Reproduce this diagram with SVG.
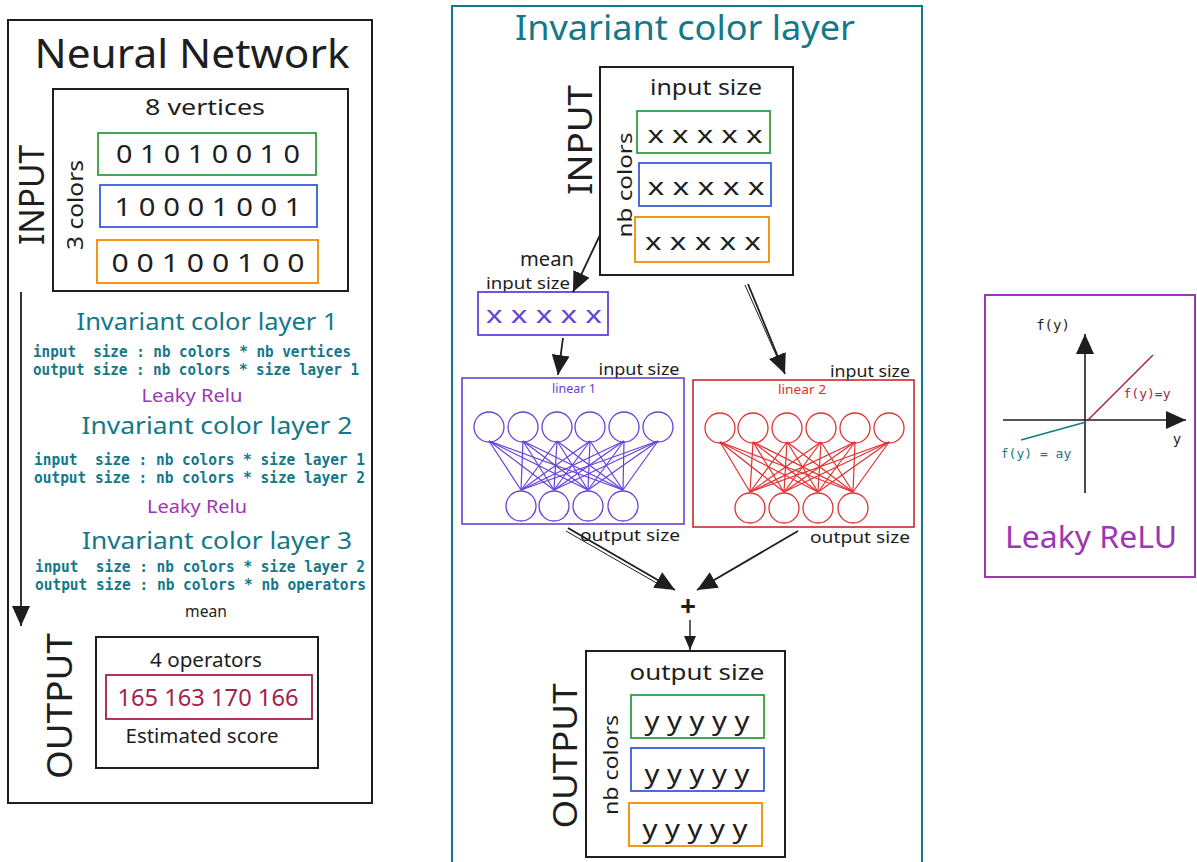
<svg xmlns="http://www.w3.org/2000/svg" width="1197" height="862" viewBox="0 0 1197 862">
<defs>
<style>
.hand{font-family:"Noto Sans","Open Sans",sans-serif;}
.mono{font-family:"DejaVu Sans Mono","Liberation Mono",monospace;font-size:15px;font-weight:bold;fill:#13788a;}
.box{fill:none;stroke:#1e1e1e;stroke-width:2;}
.g{fill:none;stroke:#2f9e44;stroke-width:1.8;}
.b{fill:none;stroke:#3b5bdb;stroke-width:1.8;}
.o{fill:none;stroke:#f08c00;stroke-width:1.8;}
.teal{fill:#13788a;}
.purp{fill:#9c36b5;}
.ink{fill:#1e1e1e;}
.conn{stroke:#1e1e1e;stroke-width:1.8;fill:none;marker-end:url(#ah);}
.nn1 circle{fill:none;stroke:#6741d9;stroke-width:1.3;}
.nn1 line{stroke:#6741d9;stroke-width:1.2;}
.nn2 circle{fill:none;stroke:#e03131;stroke-width:1.3;}
.nn2 line{stroke:#e03131;stroke-width:1.2;}
</style>
<marker id="ah" viewBox="0 0 20 18" refX="20" refY="9" markerWidth="20" markerHeight="18" markerUnits="userSpaceOnUse" orient="auto">
<path d="M0,0 L20,9 L0,18 Z" fill="#1e1e1e"/>
</marker>
<marker id="ahs" viewBox="0 0 14 12" refX="14" refY="6" markerWidth="14" markerHeight="12" markerUnits="userSpaceOnUse" orient="auto">
<path d="M0,0 L14,6 L0,12 Z" fill="#1e1e1e"/>
</marker>
</defs>
<rect width="1197" height="862" fill="#ffffff"/>

<!-- LEFT PANEL -->
<g id="neural-network">
<rect x="8" y="20" width="364" height="783" class="box"/>
<text x="192" y="68" class="hand ink" font-size="40" text-anchor="middle" textLength="315" lengthAdjust="spacingAndGlyphs">Neural Network</text>
</g>
<g id="nn-input">
<rect x="53" y="89" width="295" height="202" class="box"/>
<text x="205" y="115" class="hand ink" font-size="22" text-anchor="middle" textLength="120" lengthAdjust="spacingAndGlyphs">8 vertices</text>
<rect x="98" y="133" width="218" height="42" class="g"/>
<text x="208" y="163" class="hand ink" font-size="26" text-anchor="middle" textLength="184" lengthAdjust="spacingAndGlyphs">0 1 0 1 0 0 1 0</text>
<rect x="100" y="185" width="217" height="42" class="b"/>
<text x="208" y="216" class="hand ink" font-size="26" text-anchor="middle" textLength="187" lengthAdjust="spacingAndGlyphs">1 0 0 0 1 0 0 1</text>
<rect x="97" y="240" width="221" height="43" class="o"/>
<text x="208" y="272" class="hand ink" font-size="26" text-anchor="middle" textLength="193" lengthAdjust="spacingAndGlyphs">0 0 1 0 0 1 0 0</text>
<text transform="translate(83,205) rotate(-90)" class="hand ink" font-size="22" text-anchor="middle" textLength="90" lengthAdjust="spacingAndGlyphs">3 colors</text>
<text transform="translate(44,195) rotate(-90)" class="hand ink" font-size="34" text-anchor="middle" textLength="100" lengthAdjust="spacingAndGlyphs">INPUT</text>
</g>
<g id="nn-layers">
<text x="207" y="330" class="hand teal" font-size="24" text-anchor="middle" textLength="261" lengthAdjust="spacingAndGlyphs">Invariant color layer 1</text>
<text x="33" y="357" class="mono" textLength="318" lengthAdjust="spacingAndGlyphs" xml:space="preserve">input  size : nb colors * nb vertices</text>
<text x="33" y="375" class="mono" textLength="326" lengthAdjust="spacingAndGlyphs">output size : nb colors * size layer 1</text>
<text x="192" y="402" class="hand purp" font-size="18" text-anchor="middle" textLength="101" lengthAdjust="spacingAndGlyphs">Leaky Relu</text>
<text x="217" y="434" class="hand teal" font-size="24" text-anchor="middle" textLength="271" lengthAdjust="spacingAndGlyphs">Invariant color layer 2</text>
<text x="34" y="465" class="mono" textLength="331" lengthAdjust="spacingAndGlyphs" xml:space="preserve">input  size : nb colors * size layer 1</text>
<text x="34" y="483" class="mono" textLength="331" lengthAdjust="spacingAndGlyphs">output size : nb colors * size layer 2</text>
<text x="197" y="513" class="hand purp" font-size="18" text-anchor="middle" textLength="100" lengthAdjust="spacingAndGlyphs">Leaky Relu</text>
<text x="217" y="549" class="hand teal" font-size="24" text-anchor="middle" textLength="270" lengthAdjust="spacingAndGlyphs">Invariant color layer 3</text>
<text x="35" y="572" class="mono" textLength="330" lengthAdjust="spacingAndGlyphs" xml:space="preserve">input  size : nb colors * size layer 2</text>
<text x="35" y="590" class="mono" textLength="331" lengthAdjust="spacingAndGlyphs">output size : nb colors * nb operators</text>
<text x="206" y="617" class="hand ink" font-size="16" text-anchor="middle" textLength="42" lengthAdjust="spacingAndGlyphs">mean</text>
</g>
<g id="nn-output">
<rect x="96" y="637" width="222" height="131" class="box"/>
<text x="206" y="667" class="hand ink" font-size="19" text-anchor="middle" textLength="112" lengthAdjust="spacingAndGlyphs">4 operators</text>
<rect x="106" y="675" width="206" height="44" fill="none" stroke="#a61e4d" stroke-width="1.8"/>
<text x="208" y="706" class="hand" fill="#a61e4d" font-size="24" text-anchor="middle" textLength="181" lengthAdjust="spacingAndGlyphs">165 163 170 166</text>
<text x="202" y="743" class="hand ink" font-size="19" text-anchor="middle" textLength="153" lengthAdjust="spacingAndGlyphs">Estimated score</text>
<text transform="translate(72,706) rotate(-90)" class="hand ink" font-size="34" text-anchor="middle" textLength="146" lengthAdjust="spacingAndGlyphs">OUTPUT</text>
</g>

<!-- MIDDLE PANEL -->
<g id="invariant-color-layer">
<rect x="452" y="6" width="470" height="860" fill="none" stroke="#13788a" stroke-width="2"/>
<text x="685" y="40" class="hand teal" font-size="34" text-anchor="middle" textLength="340" lengthAdjust="spacingAndGlyphs">Invariant color layer</text>
</g>
<g id="icl-input">
<rect x="600" y="67" width="193" height="208" class="box"/>
<text x="706" y="95" class="hand ink" font-size="22" text-anchor="middle" textLength="112" lengthAdjust="spacingAndGlyphs">input size</text>
<rect x="637" y="111" width="133" height="42" class="g"/>
<text x="705" y="143" class="hand ink" font-size="24" text-anchor="middle" textLength="115" lengthAdjust="spacingAndGlyphs">x x x x x</text>
<rect x="639" y="163" width="132" height="43" class="b"/>
<text x="706" y="195" class="hand ink" font-size="24" text-anchor="middle" textLength="117" lengthAdjust="spacingAndGlyphs">x x x x x</text>
<rect x="635" y="217" width="134" height="45" class="o"/>
<text x="703" y="250" class="hand ink" font-size="24" text-anchor="middle" textLength="116" lengthAdjust="spacingAndGlyphs">x x x x x</text>
<text transform="translate(632,185) rotate(-90)" class="hand ink" font-size="20" text-anchor="middle" textLength="105" lengthAdjust="spacingAndGlyphs">nb colors</text>
<text transform="translate(592,140) rotate(-90)" class="hand ink" font-size="32" text-anchor="middle" textLength="110" lengthAdjust="spacingAndGlyphs">INPUT</text>
</g>
<g id="icl-mean">
<text x="547" y="266" class="hand ink" font-size="20" text-anchor="middle" textLength="54" lengthAdjust="spacingAndGlyphs">mean</text>
<text x="528" y="289" class="hand ink" font-size="16" text-anchor="middle" textLength="84" lengthAdjust="spacingAndGlyphs">input size</text>
<rect x="478" y="292" width="130" height="43" fill="none" stroke="#6741d9" stroke-width="1.8"/>
<text x="544" y="323" class="hand" fill="#6741d9" font-size="24" text-anchor="middle" textLength="116" lengthAdjust="spacingAndGlyphs">x x x x x</text>
</g>
<g id="linear-1">
<text x="639" y="375" class="hand ink" font-size="16" text-anchor="middle" textLength="81" lengthAdjust="spacingAndGlyphs">input size</text>
<rect x="462" y="378" width="222" height="146" fill="none" stroke="#6741d9" stroke-width="1.6"/>
<text x="574" y="393" class="hand" fill="#6741d9" font-size="12" text-anchor="middle" textLength="44" lengthAdjust="spacingAndGlyphs">linear 1</text>
<g class="nn1">
<circle cx="489" cy="427" r="15"/><circle cx="523" cy="427" r="15"/><circle cx="557" cy="427" r="15"/><circle cx="590" cy="427" r="15"/><circle cx="624" cy="427" r="15"/><circle cx="658" cy="427" r="15"/>
<circle cx="521" cy="506" r="15"/><circle cx="554" cy="506" r="15"/><circle cx="588" cy="506" r="15"/><circle cx="623" cy="506" r="15"/>
<line x1="489" y1="441" x2="521" y2="490"/><line x1="489" y1="441" x2="554" y2="490"/><line x1="489" y1="441" x2="588" y2="490"/><line x1="489" y1="441" x2="623" y2="490"/>
<line x1="523" y1="441" x2="521" y2="490"/><line x1="523" y1="441" x2="554" y2="490"/><line x1="523" y1="441" x2="588" y2="490"/><line x1="523" y1="441" x2="623" y2="490"/>
<line x1="557" y1="441" x2="521" y2="490"/><line x1="557" y1="441" x2="554" y2="490"/><line x1="557" y1="441" x2="588" y2="490"/><line x1="557" y1="441" x2="623" y2="490"/>
<line x1="590" y1="441" x2="521" y2="490"/><line x1="590" y1="441" x2="554" y2="490"/><line x1="590" y1="441" x2="588" y2="490"/><line x1="590" y1="441" x2="623" y2="490"/>
<line x1="624" y1="441" x2="521" y2="490"/><line x1="624" y1="441" x2="554" y2="490"/><line x1="624" y1="441" x2="588" y2="490"/><line x1="624" y1="441" x2="623" y2="490"/>
<line x1="658" y1="441" x2="521" y2="490"/><line x1="658" y1="441" x2="554" y2="490"/><line x1="658" y1="441" x2="588" y2="490"/><line x1="658" y1="441" x2="623" y2="490"/>
</g>
<text x="630" y="541" class="hand ink" font-size="16" text-anchor="middle" textLength="100" lengthAdjust="spacingAndGlyphs">output size</text>
</g>
<g id="linear-2">
<text x="870" y="377" class="hand ink" font-size="16" text-anchor="middle" textLength="80" lengthAdjust="spacingAndGlyphs">input size</text>
<rect x="693" y="380" width="221" height="147" fill="none" stroke="#c92a2a" stroke-width="1.6"/>
<text x="802" y="394" class="hand" fill="#e03131" font-size="12" text-anchor="middle" textLength="48" lengthAdjust="spacingAndGlyphs">linear 2</text>
<g class="nn2">
<circle cx="720" cy="428" r="15"/><circle cx="753" cy="428" r="15"/><circle cx="787" cy="428" r="15"/><circle cx="821" cy="428" r="15"/><circle cx="855" cy="428" r="15"/><circle cx="889" cy="428" r="15"/>
<circle cx="750" cy="508" r="15"/><circle cx="784" cy="508" r="15"/><circle cx="818" cy="508" r="15"/><circle cx="853" cy="508" r="15"/>
<line x1="720" y1="442" x2="750" y2="492"/><line x1="720" y1="442" x2="784" y2="492"/><line x1="720" y1="442" x2="818" y2="492"/><line x1="720" y1="442" x2="853" y2="492"/>
<line x1="753" y1="442" x2="750" y2="492"/><line x1="753" y1="442" x2="784" y2="492"/><line x1="753" y1="442" x2="818" y2="492"/><line x1="753" y1="442" x2="853" y2="492"/>
<line x1="787" y1="442" x2="750" y2="492"/><line x1="787" y1="442" x2="784" y2="492"/><line x1="787" y1="442" x2="818" y2="492"/><line x1="787" y1="442" x2="853" y2="492"/>
<line x1="821" y1="442" x2="750" y2="492"/><line x1="821" y1="442" x2="784" y2="492"/><line x1="821" y1="442" x2="818" y2="492"/><line x1="821" y1="442" x2="853" y2="492"/>
<line x1="855" y1="442" x2="750" y2="492"/><line x1="855" y1="442" x2="784" y2="492"/><line x1="855" y1="442" x2="818" y2="492"/><line x1="855" y1="442" x2="853" y2="492"/>
<line x1="889" y1="442" x2="750" y2="492"/><line x1="889" y1="442" x2="784" y2="492"/><line x1="889" y1="442" x2="818" y2="492"/><line x1="889" y1="442" x2="853" y2="492"/>
</g>
<text x="860" y="543" class="hand ink" font-size="16" text-anchor="middle" textLength="100" lengthAdjust="spacingAndGlyphs">output size</text>
</g>
<g id="plus">
<text x="688" y="616" class="hand ink" font-size="28" font-weight="bold" text-anchor="middle">+</text>
</g>
<g id="icl-output">
<rect x="586" y="651" width="199" height="206" class="box"/>
<text x="697" y="680" class="hand ink" font-size="22" text-anchor="middle" textLength="135" lengthAdjust="spacingAndGlyphs">output size</text>
<rect x="631" y="695" width="133" height="43" class="g"/>
<text x="697" y="730" class="hand ink" font-size="26" text-anchor="middle" textLength="105" lengthAdjust="spacingAndGlyphs">y y y y y</text>
<rect x="631" y="748" width="133" height="43" class="b"/>
<text x="697" y="783" class="hand ink" font-size="26" text-anchor="middle" textLength="105" lengthAdjust="spacingAndGlyphs">y y y y y</text>
<rect x="629" y="803" width="133" height="43" class="o"/>
<text x="695" y="838" class="hand ink" font-size="26" text-anchor="middle" textLength="105" lengthAdjust="spacingAndGlyphs">y y y y y</text>
<text transform="translate(618,765) rotate(-90)" class="hand ink" font-size="20" text-anchor="middle" textLength="100" lengthAdjust="spacingAndGlyphs">nb colors</text>
<text transform="translate(577,756) rotate(-90)" class="hand ink" font-size="32" text-anchor="middle" textLength="145" lengthAdjust="spacingAndGlyphs">OUTPUT</text>
</g>

<!-- RIGHT PANEL -->
<g id="leaky-relu">
<rect x="985" y="295" width="210" height="282" fill="none" stroke="#9c36b5" stroke-width="2"/>
<text x="1053" y="330" font-family="DejaVu Sans Mono,monospace" font-size="14" fill="#1e1e1e" text-anchor="middle">f(y)</text>
<line x1="1085" y1="493" x2="1085" y2="334" stroke="#1e1e1e" stroke-width="1.6" marker-end="url(#ah)"/>
<line x1="1003" y1="420" x2="1186" y2="420" stroke="#1e1e1e" stroke-width="1.6" marker-end="url(#ah)"/>
<line x1="1087" y1="421" x2="1153" y2="355" stroke="#a61e4d" stroke-width="1.4"/>
<line x1="1021" y1="440" x2="1086" y2="422" stroke="#13788a" stroke-width="1.6"/>
<text x="1147" y="398" font-family="DejaVu Sans Mono,monospace" font-size="13" fill="#a61e4d" text-anchor="middle">f(y)=y</text>
<text x="1177" y="444" font-family="DejaVu Sans Mono,monospace" font-size="14" fill="#1e1e1e" text-anchor="middle">y</text>
<text x="1036" y="458" font-family="DejaVu Sans Mono,monospace" font-size="13" fill="#13788a" text-anchor="middle">f(y) = ay</text>
<text x="1091" y="548" class="hand purp" font-size="30" text-anchor="middle" textLength="172" lengthAdjust="spacingAndGlyphs">Leaky ReLU</text>
</g>

<!-- CONNECTORS -->
<g id="connectors">
<line x1="21" y1="292" x2="21" y2="626" class="conn"/>
<line x1="600" y1="235" x2="573" y2="292" class="conn"/>
<line x1="563" y1="338" x2="558" y2="375" class="conn"/>
<line x1="748" y1="284" x2="785" y2="374" class="conn"/>
<line x1="745" y1="285" x2="781" y2="366" stroke="#1e1e1e" stroke-width="1"/>
<line x1="568" y1="528" x2="675" y2="590" class="conn"/>
<line x1="566" y1="531" x2="667" y2="589" stroke="#1e1e1e" stroke-width="1"/>
<line x1="798" y1="531" x2="697" y2="590" class="conn"/>
<line x1="690" y1="620" x2="690" y2="650" stroke="#1e1e1e" stroke-width="1.4" marker-end="url(#ahs)"/>
</g>
</svg>
